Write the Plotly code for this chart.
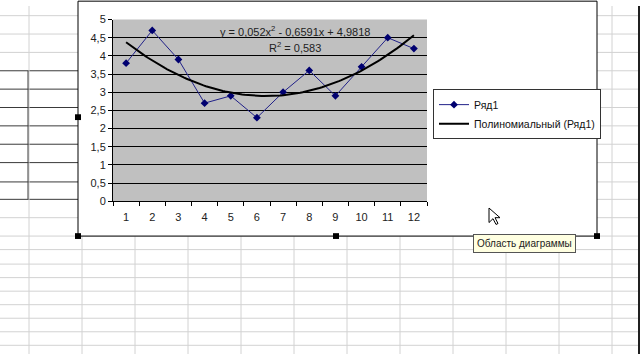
import numpy as np
import plotly.graph_objects as go

# ---- data ----
categories = [1, 2, 3, 4, 5, 6, 7, 8, 9, 10, 11, 12]
series1 = [3.8, 4.7, 3.9, 2.7, 2.9, 2.3, 3.0, 3.6, 2.9, 3.7, 4.5, 4.2]
y_tick_vals = [0, 0.5, 1, 1.5, 2, 2.5, 3, 3.5, 4, 4.5, 5]
y_tick_text = ["0", "0,5", "1", "1,5", "2", "2,5", "3", "3,5", "4", "4,5", "5"]
series_name = "Ряд1"
trend_name = "Полиномиальный (Ряд1)"
equation_text = "y = 0,052x<sup>2</sup> - 0,6591x + 4,9818"
r2_text = "R<sup>2</sup> = 0,583"
tooltip_text = "Область диаграммы"

# polynomial trendline (order 2) fitted to the series
coef = np.polyfit(categories, series1, 2)
trend_x = np.linspace(categories[0], categories[-1], 120)
trend_y = np.polyval(coef, trend_x)

W, H = 640, 360
def px(x):
    return x / W
def py(y):
    return 1 - y / H

FONT = "Liberation Sans, Arial, sans-serif"

fig = go.Figure()
fig.add_trace(go.Scatter(
    x=categories, y=series1, mode="lines+markers", name=series_name,
    line=dict(color="#202088", width=1),
    marker=dict(symbol="diamond", size=6, color="#000070"),
))
fig.add_trace(go.Scatter(
    x=trend_x, y=trend_y, mode="lines", name=trend_name,
    line=dict(color="#000000", width=2),
))

shapes = []
grid_c = "#d2d2d2"
dark_c = "#3a3a3a"

def hline(y, x0, x1, color, width=1):
    shapes.append(dict(type="line", xref="paper", yref="paper", layer="below",
                       x0=px(x0), x1=px(x1), y0=py(y), y1=py(y),
                       line=dict(color=color, width=width)))
def vline(x, y0, y1, color, width=1):
    shapes.append(dict(type="line", xref="paper", yref="paper", layer="below",
                       x0=px(x), x1=px(x), y0=py(y0), y1=py(y1),
                       line=dict(color=color, width=width)))

# spreadsheet grid - rows
for y in [10, 29, 48, 219, 238]:
    hline(y, 0, 640, grid_c)
for y in [67, 86, 105, 124, 143, 162, 182, 200]:
    hline(y, 78, 640, grid_c)
    hline(y, 0, 78, dark_c)
for y in [252, 267, 281, 295, 309, 323, 337, 351]:
    hline(y, 0, 640, grid_c)
# columns
for x in [29, 82, 135, 188, 241, 294, 347, 400, 453, 506, 559, 612]:
    vline(x, 0, 360, grid_c)
vline(28, 67, 200, dark_c)
vline(639, 0, 360, "#202020", 2)

# chart area
shapes.append(dict(type="rect", xref="paper", yref="paper", layer="below",
                   x0=px(78), x1=px(597), y0=py(238), y1=py(-5),
                   fillcolor="white", line=dict(color="#000000", width=1)))
# plot area
shapes.append(dict(type="rect", xref="x domain", yref="y domain", layer="below",
                   x0=0, x1=1, y0=0, y1=1,
                   fillcolor="#c0c0c0", line=dict(width=0)))
# selection handles
for (hx, hy) in [(78, 115), (78, 238), (336, 238), (597, 238), (597, 115)]:
    shapes.append(dict(type="rect", xref="paper", yref="paper",
                       x0=px(hx - 3), x1=px(hx + 3), y0=py(hy + 3), y1=py(hy - 3),
                       fillcolor="#000000", line=dict(width=0)))
# mouse cursor
cx, cy = 489, 209
pts = [(0, 0), (0, 15), (4, 11), (7, 17), (9, 16), (6, 10), (11, 10)]
path = "M " + " L ".join(f"{px(cx+a)},{py(cy+b)}" for a, b in pts) + " Z"
shapes.append(dict(type="path", xref="paper", yref="paper", path=path,
                   fillcolor="white", line=dict(color="#000000", width=1)))

annotations = [
    dict(text=equation_text, x=px(295), y=py(26), xref="paper", yref="paper",
         yanchor="middle", showarrow=False, font=dict(family=FONT, size=11, color="#222")),
    dict(text=r2_text, x=px(295), y=py(42), xref="paper", yref="paper",
         yanchor="middle", showarrow=False, font=dict(family=FONT, size=11, color="#222")),
    dict(text=tooltip_text, x=px(473), y=py(246), xref="paper", yref="paper",
         xanchor="left", yanchor="middle", showarrow=False, bgcolor="#ffffe1",
         bordercolor="#555", borderwidth=1, borderpad=3,
         font=dict(family=FONT, size=10, color="#222")),
]

fig.update_layout(
    width=W, height=H,
    margin=dict(l=0, r=0, t=0, b=0),
    paper_bgcolor="white",
    plot_bgcolor="rgba(0,0,0,0)",
    font=dict(family=FONT, size=11, color="#222"),
    shapes=shapes,
    annotations=annotations,
    showlegend=True,
    legend=dict(x=px(433), y=py(86), xanchor="left", yanchor="top",
                bgcolor="white", bordercolor="#333", borderwidth=1,
                font=dict(family=FONT, size=10.5, color="#111"),
                itemwidth=30, tracegroupgap=0),
    xaxis=dict(domain=[px(113), px(427)], range=[0.5, 12.5],
               tickmode="array", tickvals=categories,
               ticktext=[str(c) for c in categories],
               ticks="", showgrid=False, zeroline=False,
               showline=True, linecolor="#000", linewidth=1,
               ticklabelstandoff=6,
               minor=dict(tick0=0.5, dtick=1, ticks="outside", ticklen=4,
                          tickcolor="#000", showgrid=False)),
    yaxis=dict(domain=[py(202), py(14)], range=[0, 5],
               tickmode="array", tickvals=y_tick_vals, ticktext=y_tick_text,
               ticks="outside", ticklen=4, tickcolor="#000",
               showgrid=True, gridcolor="#000", gridwidth=1,
               zeroline=False, showline=True, linecolor="#000", linewidth=1),
)

fig.write_html("out.html")
